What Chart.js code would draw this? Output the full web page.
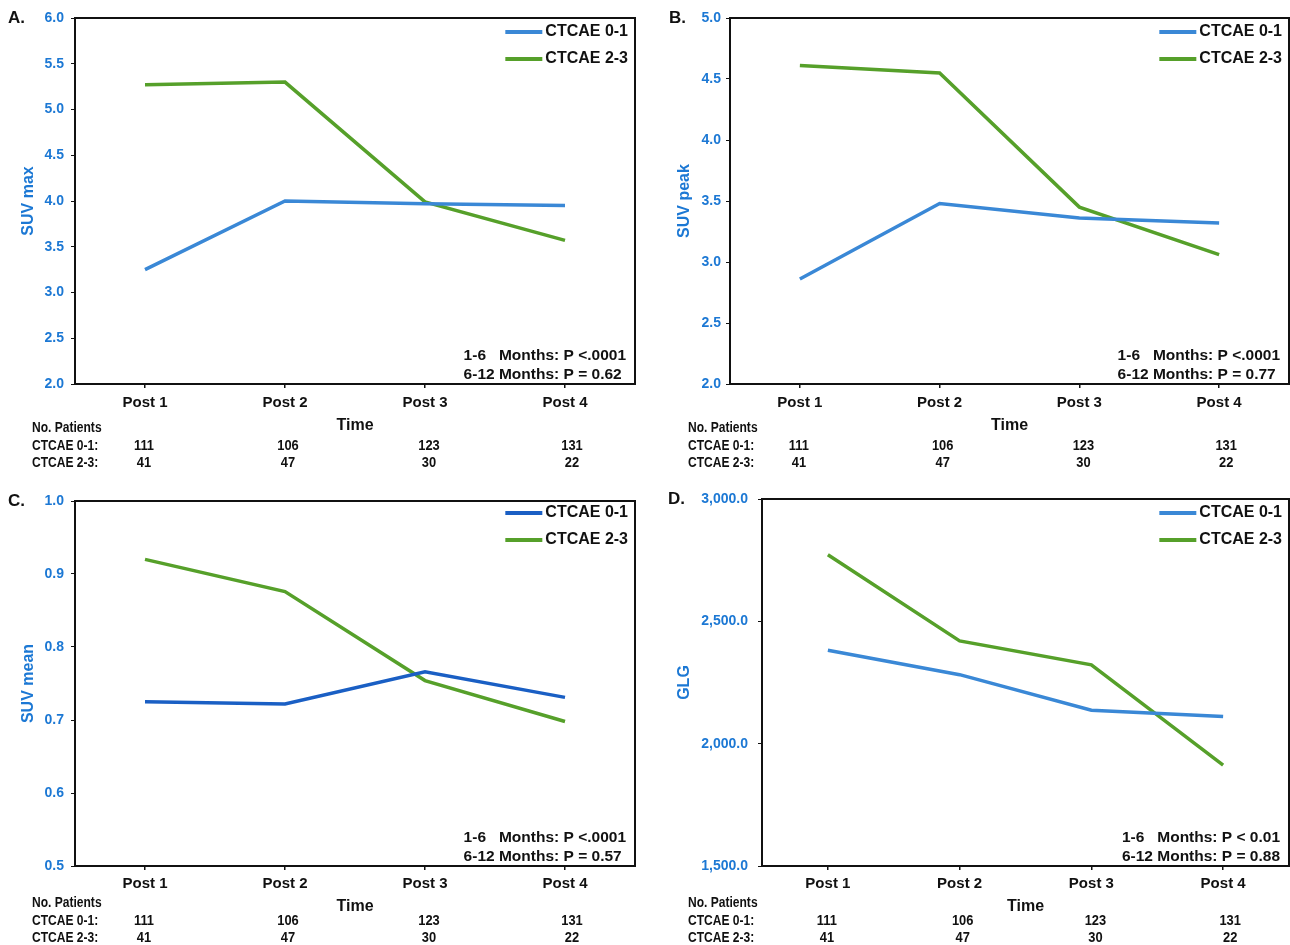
<!DOCTYPE html>
<html>
<head>
<meta charset="utf-8">
<script src="https://cdn.jsdelivr.net/npm/chart.js@4.4.1/dist/chart.umd.min.js"></script>
<style>
  html,body{margin:0;padding:0;background:#fff;}
  #wrap{position:relative;width:1290px;height:945px;background:#fff;overflow:hidden;}
  .pane{position:absolute;}
</style>
</head>
<body>
<div id="wrap">
  <div class="pane" style="left:0;top:0;width:645px;height:475px"><canvas id="cA" width="645" height="475"></canvas></div>
  <div class="pane" style="left:645px;top:0;width:645px;height:475px"><canvas id="cB" width="645" height="475"></canvas></div>
  <div class="pane" style="left:0;top:475px;width:645px;height:470px"><canvas id="cC" width="645" height="470"></canvas></div>
  <div class="pane" style="left:645px;top:475px;width:645px;height:470px"><canvas id="cD" width="645" height="470"></canvas></div>
</div>
<script>
// ---------- DATA ----------
const categories = ["Post 1", "Post 2", "Post 3", "Post 4"];
const seriesNames = ["CTCAE 0-1", "CTCAE 2-3"];
const patients01 = [111, 106, 123, 131];
const patients23 = [41, 47, 30, 22];

const suvMax01 = [3.25, 4.00, 3.97, 3.95];
const suvMax23 = [5.27, 5.30, 3.99, 3.57];

const suvPeak01 = [2.86, 3.48, 3.36, 3.32];
const suvPeak23 = [4.61, 4.55, 3.45, 3.06];

const suvMean01 = [0.725, 0.722, 0.766, 0.731];
const suvMean23 = [0.920, 0.876, 0.754, 0.698];

const glg01 = [2382, 2282, 2137, 2111];
const glg23 = [2772, 2420, 2322, 1912];

const pA = ["1-6", "Months: P <.0001", "6-12 Months: P = 0.62"];
const pB = ["1-6", "Months: P <.0001", "6-12 Months: P = 0.77"];
const pC = ["1-6", "Months: P <.0001", "6-12 Months: P = 0.57"];
const pD = ["1-6", "Months: P < 0.01", "6-12 Months: P = 0.88"];

// ---------- STYLE ----------
const BLUE = "#3a88d6";
const BLUE_DARK = "#1a5fc4";
const GREEN = "#56a02a";
const AXIS_BLUE = "#1c78d4";
const SANS = "'Liberation Sans', Arial, sans-serif";
const numShift = [-1, 3, 4, 7];

function narrowText(ctx, s, x, y, k) {
  const w = ctx.measureText(s).width;
  ctx.fillText(s, x, y, w * k);
}

const decor = {
  id: "decor",
  afterDraw(chart, args, o) {
    const ctx = chart.ctx;
    const a = chart.chartArea;
    const xs = chart.scales.x;
    ctx.save();
    // frame
    ctx.strokeStyle = "#111";
    ctx.lineWidth = 2;
    ctx.strokeRect(a.left, a.top, a.right - a.left, a.bottom - a.top);

    // panel letter
    ctx.fillStyle = "#111";
    ctx.font = "bold 17px " + SANS;
    ctx.textAlign = "left";
    ctx.textBaseline = "middle";
    ctx.fillText(o.letter, o.letterX, a.top);

    // y title
    ctx.save();
    ctx.translate(o.yTitleX, (a.top + a.bottom) / 2);
    ctx.rotate(-Math.PI / 2);
    ctx.fillStyle = AXIS_BLUE;
    ctx.font = "bold 16px " + SANS;
    ctx.textAlign = "center";
    ctx.textBaseline = "middle";
    ctx.fillText(o.yTitle, 0, 0);
    ctx.restore();

    // x title
    ctx.fillStyle = "#111";
    ctx.font = "bold 16px " + SANS;
    ctx.textAlign = "center";
    ctx.fillText("Time", (a.left + a.right) / 2, o.timeY);

    // patients table
    ctx.font = "bold 14px " + SANS;
    ctx.textAlign = "left";
    narrowText(ctx, "No. Patients", o.tableX, 428, 0.86);
    narrowText(ctx, seriesNames[0] + ":", o.tableX, 446, 0.86);
    narrowText(ctx, seriesNames[1] + ":", o.tableX, 463, 0.86);
    ctx.textAlign = "center";
    categories.forEach((c, i) => {
      const px = xs.getPixelForValue(i) + numShift[i];
      narrowText(ctx, String(patients01[i]), px, 446, 0.92);
      narrowText(ctx, String(patients23[i]), px, 463, 0.92);
    });

    // legend
    ctx.font = "bold 16px " + SANS;
    ctx.textAlign = "left";
    const lw = Math.max(ctx.measureText(seriesNames[0]).width, ctx.measureText(seriesNames[1]).width);
    const tx = a.right - 7 - lw;
    chart.data.datasets.forEach((ds, i) => {
      const y = a.top + o.legendTop + i * 27;
      ctx.strokeStyle = ds.borderColor;
      ctx.lineWidth = 4;
      ctx.beginPath();
      ctx.moveTo(tx - 40, y);
      ctx.lineTo(tx - 3, y);
      ctx.stroke();
      ctx.fillStyle = "#111";
      ctx.fillText(ds.label, tx, y);
    });

    // p-values
    ctx.font = "bold 15.5px " + SANS;
    const p = o.pvals;
    const gap = ctx.measureText("6-12 ").width;
    const w2 = ctx.measureText(p[2]).width;
    const w1 = gap + ctx.measureText(p[1]).width;
    const x0 = a.right - 9 - Math.max(w1, w2);
    ctx.fillText(p[0], x0, a.bottom - 28);
    ctx.fillText(p[1], x0 + gap, a.bottom - 28);
    ctx.fillText(p[2], x0, a.bottom - 9);
    ctx.restore();
  }
};

function makeChart(id, cfg) {
  const cv = document.getElementById(id);
  const W = cv.width, H = cv.height;
  return new Chart(cv, {
    type: "line",
    data: {
      labels: categories,
      datasets: [
        { label: seriesNames[0], data: cfg.d1, borderColor: cfg.c1, backgroundColor: cfg.c1,
          borderWidth: 3.5, pointRadius: 0, tension: 0, fill: false },
        { label: seriesNames[1], data: cfg.d2, borderColor: GREEN, backgroundColor: GREEN,
          borderWidth: 3.5, pointRadius: 0, tension: 0, fill: false }
      ]
    },
    options: {
      responsive: false,
      animation: false,
      events: [],
      layout: { padding: { left: 0, top: cfg.top, right: W - cfg.right, bottom: 0 } },
      plugins: {
        legend: { display: false },
        tooltip: { enabled: false },
        decor: cfg.decor
      },
      scales: {
        x: {
          type: "category",
          offset: true,
          afterFit(s) { s.height = H - cfg.bottom; },
          grid: { display: true, drawOnChartArea: false, drawTicks: true, tickLength: 4, color: "#111", lineWidth: 1.5, offset: false },
          border: { display: true, color: "#111", width: 2 },
          ticks: { color: "#111", font: { family: SANS, size: 15, weight: "bold" }, padding: cfg.xPad, maxRotation: 0, autoSkip: false }
        },
        y: {
          min: cfg.min, max: cfg.max,
          afterFit(s) { s.width = cfg.left; },
          grid: { display: true, drawOnChartArea: false, drawTicks: true, tickLength: 4, color: "#111", lineWidth: 1 },
          border: { display: true, color: "#111", width: 2 },
          ticks: { stepSize: cfg.step, color: AXIS_BLUE, padding: cfg.tickPad,
                   font: { family: SANS, size: 14, weight: "bold" }, callback: cfg.fmt }
        }
      }
    },
    plugins: [decor]
  });
}

const f1 = v => Number(v).toFixed(1);
const fK = v => Number(v).toLocaleString("en-US", { minimumFractionDigits: 1, maximumFractionDigits: 1 });

makeChart("cA", { d1: suvMax01, d2: suvMax23, c1: BLUE, min: 2, max: 6, step: 0.5, fmt: f1,
  left: 75, top: 18, right: 635, bottom: 384, tickPad: 7, xPad: 6,
  decor: { letter: "A.", letterX: 8, yTitle: "SUV max", yTitleX: 29, tableX: 32, timeY: 426, legendTop: 14, pvals: pA } });
makeChart("cB", { d1: suvPeak01, d2: suvPeak23, c1: BLUE, min: 2, max: 5, step: 0.5, fmt: f1,
  left: 85, top: 18, right: 644, bottom: 384, tickPad: 5, xPad: 6,
  decor: { letter: "B.", letterX: 24, yTitle: "SUV peak", yTitleX: 40, tableX: 43, timeY: 426, legendTop: 14, pvals: pB } });
makeChart("cC", { d1: suvMean01, d2: suvMean23, c1: BLUE_DARK, min: 0.5, max: 1.0, step: 0.1, fmt: f1,
  left: 75, top: 26, right: 635, bottom: 391, tickPad: 7, xPad: 5,
  decor: { letter: "C.", letterX: 8, yTitle: "SUV mean", yTitleX: 29, tableX: 32, timeY: 432, legendTop: 12, pvals: pC } });
makeChart("cD", { d1: glg01, d2: glg23, c1: BLUE, min: 1500, max: 3000, step: 500, fmt: fK,
  left: 117, top: 24, right: 644, bottom: 391, tickPad: 10, xPad: 5,
  decor: { letter: "D.", letterX: 23, yTitle: "GLG", yTitleX: 40, tableX: 43, timeY: 432, legendTop: 14, pvals: pD } });
</script>
</body>
</html>
